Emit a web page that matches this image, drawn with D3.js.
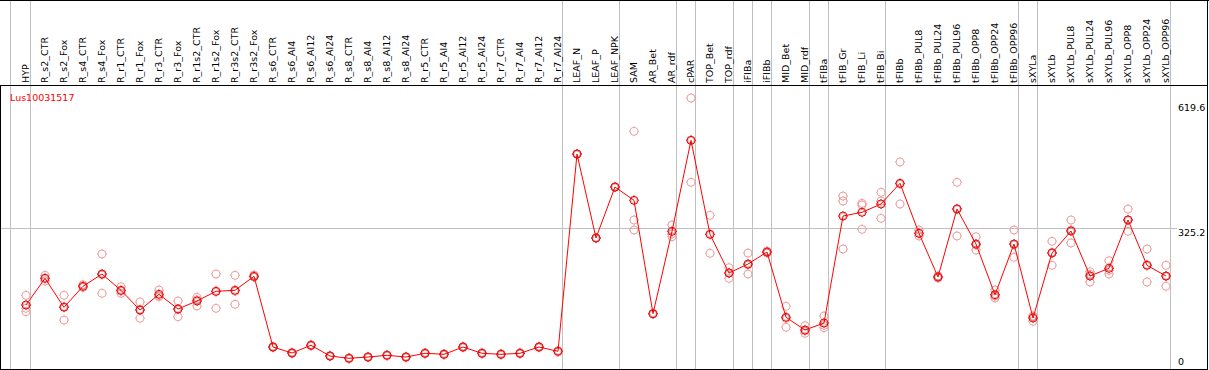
<!DOCTYPE html>
<html>
<head>
<meta charset="utf-8">
<script src="https://cdn.jsdelivr.net/npm/d3@7"></script>
<style>
  body { margin: 0; background: #fff; }
  svg { display: block; }
  text { font-family: 'DejaVu Sans', sans-serif; }
</style>
</head>
<body>
<svg id="chart"></svg>
<script>
const categories = ['HYP', 'R_s2_CTR', 'R_s2_Fox', 'R_s4_CTR', 'R_s4_Fox', 'R_r1_CTR', 'R_r1_Fox',
  'R_r3_CTR', 'R_r3_Fox', 'R_r1s2_CTR', 'R_r1s2_Fox', 'R_r3s2_CTR', 'R_r3s2_Fox', 'R_s6_CTR',
  'R_s6_Al4', 'R_s6_Al12', 'R_s6_Al24', 'R_s8_CTR', 'R_s8_Al4', 'R_s8_Al12', 'R_s8_Al24',
  'R_r5_CTR', 'R_r5_Al4', 'R_r5_Al12', 'R_r5_Al24', 'R_r7_CTR', 'R_r7_Al4', 'R_r7_Al12',
  'R_r7_Al24', 'LEAF_N', 'LEAF_P', 'LEAF_NPK', 'SAM', 'AR_Bet', 'AR_rdf', 'cPAR', 'TOP_Bet',
  'TOP_rdf', 'iFIBa', 'iFIBb', 'MID_Bet', 'MID_rdf', 'tFIBa', 'tFIB_Gr', 'tFIB_Li', 'tFIB_Bi',
  'tFIBb', 'tFIBb_PUL8', 'tFIBb_PUL24', 'tFIBb_PUL96', 'tFIBb_OPP8', 'tFIBb_OPP24',
  'tFIBb_OPP96', 'sXYLa', 'sXYLb', 'sXYLb_PUL8', 'sXYLb_PUL24', 'sXYLb_PUL96', 'sXYLb_OPP8',
  'sXYLb_OPP24', 'sXYLb_OPP96'];

// last category of each sample group (a grey separator follows it)
const groupEnds = ['HYP', 'R_r7_Al24', 'LEAF_NPK', 'AR_rdf', 'cPAR', 'TOP_rdf', 'iFIBa', 'iFIBb',
  'MID_rdf', 'tFIBa', 'tFIB_Bi', 'tFIBb_OPP96', 'sXYLa', 'sXYLb_OPP96'];

const geneName = 'Lus10031517';
const yTicks = [0, 325.2, 619.6];
const yMax = 619.6;

const means = [143.3, 206.3, 137.9, 187.5, 216.5, 178.0, 131.5, 168.6, 133.9, 152.8, 175.7, 178.0,
  211.1, 44.1, 30.0, 48.2, 22.9, 17.5, 20.5, 24.6, 20.5, 29.3, 26.9, 44.1, 29.3, 26.9, 29.3,
  44.1, 34.0, 499.8, 301.5, 421.9, 390.5, 122.8, 317.3, 532.2, 310.2, 218.9, 240.1, 268.4,
  114.3, 84.3, 100.8, 353.4, 362.2, 381.8, 430.6, 312.6, 209.4, 370.0, 287.3, 167.6, 287.3,
  112.6, 266.1, 318.0, 211.8, 230.0, 344.0, 237.0, 211.8];

const rep1 = [166.2, 213.4, 166.2, 191.2, 263.8, 186.5, 150.5, 178.7, 152.8, 161.5, 216.5, 213.4,
  214.1, 45.5, 31.5, 49.5, 24.0, 18.5, 21.5, 25.5, 21.5, 30.5, 28.0, 45.5, 30.5, 28.0, 30.5,
  45.5, 35.0, 500.5, 302.0, 422.5, 553.4, 123.5, 332.2, 632.1, 355.1, 231.4, 266.1, 271.0,
  140.2, 94.5, 117.3, 400.6, 383.4, 409.4, 481.0, 320.4, 212.0, 433.0, 304.6, 178.7, 320.4,
  104.9, 293.7, 344.0, 221.9, 247.9, 370.0, 275.5, 237.0];
const rep2 = [135.5, 206.3, 107.9, 185.1, 170.9, 170.9, 111.9, 162.9, 115.7, 141.0, 135.5, 145.0,
  209.4, 43.0, 29.0, 47.0, 22.0, 16.5, 19.5, 23.5, 19.5, 28.5, 26.0, 43.0, 28.5, 26.0, 28.5,
  43.0, 33.0, 499.0, 301.0, 421.0, 344.0, 122.0, 304.6, 433.0, 265.4, 206.3, 216.5, 266.0,
  90.7, 76.6, 89.7, 388.8, 379.4, 388.8, 381.8, 306.3, 207.0, 306.3, 273.2, 164.6, 256.0,
  115.7, 237.0, 289.8, 197.7, 216.5, 317.3, 197.7, 187.5];
const rep3 = [127.5, 199.9, 139.5, 185.9, 214.8, 176.4, 132.2, 164.6, 133.2, 155.8, 174.9, 175.7,
  209.4, 44.0, 30.0, 48.0, 23.0, 17.5, 20.5, 24.5, 20.5, 29.0, 27.0, 44.0, 29.0, 27.0, 29.0,
  44.0, 34.0, 500.0, 301.5, 422.0, 320.4, 123.0, 311.0, 532.2, 310.2, 218.9, 237.8, 268.0,
  111.9, 82.0, 95.4, 275.5, 322.0, 348.0, 429.1, 312.6, 209.0, 370.7, 285.0, 159.9, 285.7,
  117.3, 267.7, 320.4, 215.8, 225.5, 344.7, 237.8, 211.1];

const width = 1209;
const height = 370;
const headerH = 85;
const bottom = 369;
const step = 19;

const svg = d3.select('#chart').attr('width', width).attr('height', height);

svg.append('rect').attr('width', width).attr('height', height).attr('fill', '#fff');

// category band, the marker sits 14.5px into each band
const x = d3
  .scaleBand()
  .domain(categories)
  .range([11.5, 11.5 + step * categories.length])
  .paddingInner(0)
  .paddingOuter(0);
const cx = (c) => x(c) + 14.5;

const y = d3.scaleLinear().domain([0, yMax]).range([365.7, 103.3]);

// group separators
const sepX = [x(categories[0]) - 1].concat(groupEnds.map((c) => x(c) + step));
svg
  .append('g')
  .selectAll('line')
  .data(sepX)
  .join('line')
  .attr('x1', (d) => Math.floor(d) + 0.5)
  .attr('x2', (d) => Math.floor(d) + 0.5)
  .attr('y1', 0)
  .attr('y2', bottom)
  .attr('stroke', '#c0c0c0')
  .attr('stroke-width', 1);

// mid gridline + right-hand labels
svg
  .append('line')
  .attr('x1', 1)
  .attr('x2', 1177)
  .attr('y1', Math.round(y(yTicks[1])) + 0.5)
  .attr('y2', Math.round(y(yTicks[1])) + 0.5)
  .attr('stroke', '#c0c0c0');

svg
  .append('g')
  .selectAll('text')
  .data(yTicks)
  .join('text')
  .attr('x', 1178)
  .attr('y', (d) => Math.min(y(d) + 8, 365))
  .attr('font-size', '9.5px')
  .attr('fill', '#000')
  .text((d) => d);

// frame
const frame = svg.append('g').attr('stroke', '#000').attr('stroke-width', 1);
frame.append('line').attr('x1', 0).attr('x2', width).attr('y1', 0.5).attr('y2', 0.5);
frame.append('line').attr('x1', 0).attr('x2', 1208).attr('y1', headerH + 0.5).attr('y2', headerH + 0.5);
frame.append('line').attr('x1', 0).attr('x2', 1208).attr('y1', bottom + 0.5).attr('y2', bottom + 0.5);
frame.append('line').attr('x1', 0.5).attr('x2', 0.5).attr('y1', headerH).attr('y2', bottom + 1);
frame.append('line').attr('x1', 1207.5).attr('x2', 1207.5).attr('y1', 0).attr('y2', bottom + 1);

// rotated category labels
svg
  .append('g')
  .selectAll('text')
  .data(categories)
  .join('text')
  .attr('transform', (d) => `translate(${cx(d) + 2.5},83) rotate(-90)`)
  .attr('font-size', '9.5px')
  .attr('fill', '#000')
  .text((d) => d);

svg
  .append('text')
  .attr('x', 10)
  .attr('y', 100.5)
  .attr('font-size', '9.5px')
  .attr('fill', '#ff0000')
  .text(geneName);

const marker = (g, color, r) => {
  g.append('circle').attr('r', r).attr('fill', 'none').attr('stroke', color).attr('stroke-width', 1);
  [[0, -1], [0, 1], [-1, 0], [1, 0]].forEach(([dx, dy]) =>
    g
      .append('line')
      .attr('x1', dx * r)
      .attr('y1', dy * r)
      .attr('x2', dx * (r + 1))
      .attr('y2', dy * (r + 1))
      .attr('stroke', color)
      .attr('stroke-width', 1)
  );
};

// replicates
const reps = [];
categories.forEach((c, i) => {
  [rep1, rep2, rep3].forEach((r) => {
    if (r[i] != null) reps.push({ c, v: r[i] });
  });
});
svg
  .append('g')
  .selectAll('g')
  .data(reps)
  .join('g')
  .attr('transform', (d) => `translate(${cx(d.c)},${y(d.v)})`)
  .each(function () {
    marker(d3.select(this), '#f0a0a0', 4);
  });

// mean line
const meanData = categories.map((c, i) => ({ c, v: means[i] }));
const line = d3
  .line()
  .x((d) => cx(d.c))
  .y((d) => y(d.v));

svg
  .append('path')
  .datum(meanData)
  .attr('fill', 'none')
  .attr('stroke', '#ff0000')
  .attr('stroke-width', 1)
  .attr('d', line);

svg
  .append('g')
  .selectAll('g')
  .data(meanData)
  .join('g')
  .attr('transform', (d) => `translate(${cx(d.c)},${y(d.v)})`)
  .each(function () {
    const g = d3.select(this);
    marker(g, '#ff0000', 4);
    g.append('circle')
      .attr('r', 3)
      .attr('fill', 'none')
      .attr('stroke', '#400000')
      .attr('stroke-width', 0.5)
      .attr('stroke-opacity', 0.5);
  });
</script>
</body>
</html>
